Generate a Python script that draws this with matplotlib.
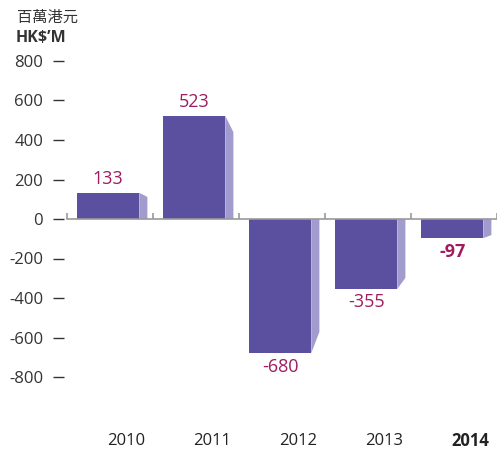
import matplotlib
matplotlib.use("Agg")
import matplotlib.pyplot as plt
from matplotlib.patches import Polygon

years = ["2010", "2011", "2012", "2013", "2014"]
values = [133, 523, -680, -355, -97]
labels = ["133", "523", "-680", "-355", "-97"]
yticks = [-800, -600, -400, -200, 0, 200, 400, 600, 800]

front = "#5b4f9f"
side = "#a29cce"
red = "#9e1c5f"
text_c = "#333333"

plt.rcParams['font.family'] = ['Open Sans', 'Noto Sans CJK TC', 'DejaVu Sans']

fig = plt.figure(figsize=(4.97, 4.53), dpi=100)
# axes left edge at the tick marks, full height
ax = fig.add_axes([64 / 497, 0, 433 / 497, 1])
ax.set_xlim((64 - 110) / 86, (497 - 110) / 86)
ax.set_ylim((219 - 453) / 0.1975, 219 / 0.1975)

for s in ax.spines.values():
    s.set_visible(False)
ax.set_xticks([])
ax.set_yticks(yticks)
ax.set_yticklabels([str(t) for t in yticks], fontsize=12, color=text_c)
ax.tick_params(axis='y', length=8, width=1, color=text_c, pad=7)

w0, w1, ws = -0.38, 0.34, 0.095
for i, v in enumerate(values):
    ax.bar(i + (w0 + w1) / 2, v, width=w1 - w0, color=front, zorder=2)
    poly = Polygon([(i + w1, 0), (i + w1, v), (i + w1 + ws, v * 0.84), (i + w1 + ws, 0)],
                   closed=True, facecolor=side, edgecolor='none', zorder=2)
    ax.add_patch(poly)
    bold = 'bold' if i == len(values) - 1 else 'normal'
    cx = i + (w0 + w1) / 2
    if v >= 0:
        ax.text(cx, v + 22, labels[i], ha='center', va='bottom', fontsize=13,
                color=red, fontweight=bold)
    else:
        ax.text(cx, v - 22, labels[i], ha='center', va='top', fontsize=13,
                color=red, fontweight=bold)
    ax.text(i + 0.19, (219 - 441) / 0.1975, years[i], ha='center', va='center',
            fontsize=12, color='#222222', fontweight=bold)

# zero line with small category ticks
ax.plot([-0.5, 4.5], [0, 0], color='#999999', lw=1.2, zorder=3)
ax.vlines([k - 0.5 for k in range(6)], 0, 30, color='#999999', lw=1.2, zorder=3)

fig.text(17 / 497, 1 - 18 / 453, "百萬港元", fontsize=11, color=text_c,
         ha='left', va='center')
fig.text(16 / 497, 1 - 38 / 453, "HK$’M", fontsize=11.5, color=text_c,
         ha='left', va='center', fontweight='bold')

fig.savefig("out.png", dpi=100)
